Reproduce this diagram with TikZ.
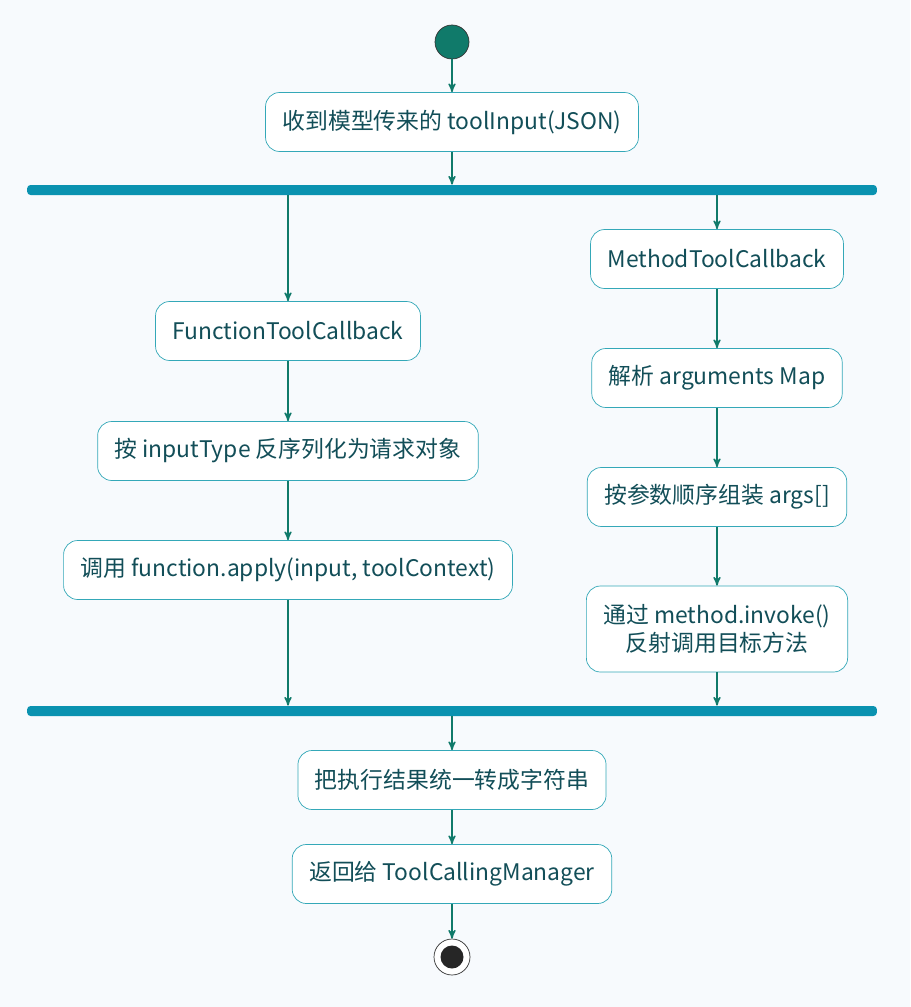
\documentclass[tikz,border=0pt]{standalone}
\usepackage{fontspec}
\setmainfont{Noto Sans CJK SC}
\usepackage{tikz}
\usetikzlibrary{arrows,shapes,positioning}
\usepackage{xcolor}
\definecolor{bgblue}{RGB}{247,250,253}
\definecolor{boxline}{RGB}{52,168,184}
\definecolor{txtteal}{RGB}{18,78,88}
\definecolor{flowgreen}{RGB}{16,122,106}
\definecolor{barblue}{RGB}{10,146,176}
\tikzstyle{action} = [draw=boxline, fill=white, rounded corners=8pt, minimum height=1.18cm,
  inner xsep=0.34cm, text=txtteal, font=\fontsize{13}{16}\selectfont, align=center]
\tikzstyle{syncbar} = [fill=barblue, rounded corners=2pt, minimum width=17cm, minimum height=0.2cm, inner sep=0pt]
\tikzstyle{arrow} = [thick,->,>=stealth',color=flowgreen]

\begin{document}
\begin{tikzpicture}[x=0.02cm,y=-0.02cm]
\fill[bgblue] (0,0) rectangle (910,1007);

% Start and end
\node[circle, fill=flowgreen, draw=black!80, minimum size=0.68cm, inner sep=0pt] (start) at (452,42) {};
\node[circle, draw=black!80, fill=white, minimum size=0.72cm, inner sep=0pt] (stop) at (452,957) {};
\node[circle, fill=black!85, minimum size=0.46cm, inner sep=0pt] at (stop) {};

% Actions
\node[action] (recv) at (452,122) {收到模型传来的 toolInput(JSON)};
\node[syncbar] (fork) at (452,190) {};
\node[action] (fcb) at (288,331) {FunctionToolCallback};
\node[action] (deser) at (288,451) {按 inputType 反序列化为请求对象};
\node[action] (apply) at (288,570) {调用 function.apply(input, toolContext)};
\node[action] (mcb) at (717,259) {MethodToolCallback};
\node[action] (parse) at (717,378) {解析 arguments Map};
\node[action] (args) at (717,497) {按参数顺序组装 args[]};
\node[action, minimum height=1.72cm] (invoke) at (717,629) {通过 method.invoke()\\反射调用目标方法};
\node[syncbar] (join) at (452,711) {};
\node[action] (tostr) at (452,780) {把执行结果统一转成字符串};
\node[action] (back) at (452,874) {返回给 ToolCallingManager};

% Flow
\draw[arrow] (start) -- (recv);
\draw[arrow] (recv) -- (fork);
\draw[arrow] (fork.south -| fcb) -- (fcb);
\draw[arrow] (fork.south -| mcb) -- (mcb);
\draw[arrow] (fcb) -- (deser);
\draw[arrow] (deser) -- (apply);
\draw[arrow] (apply) -- (join.north -| apply);
\draw[arrow] (mcb) -- (parse);
\draw[arrow] (parse) -- (args);
\draw[arrow] (args) -- (invoke);
\draw[arrow] (invoke) -- (join.north -| invoke);
\draw[arrow] (join) -- (tostr);
\draw[arrow] (tostr) -- (back);
\draw[arrow] (back) -- (stop);
\end{tikzpicture}
\end{document}
